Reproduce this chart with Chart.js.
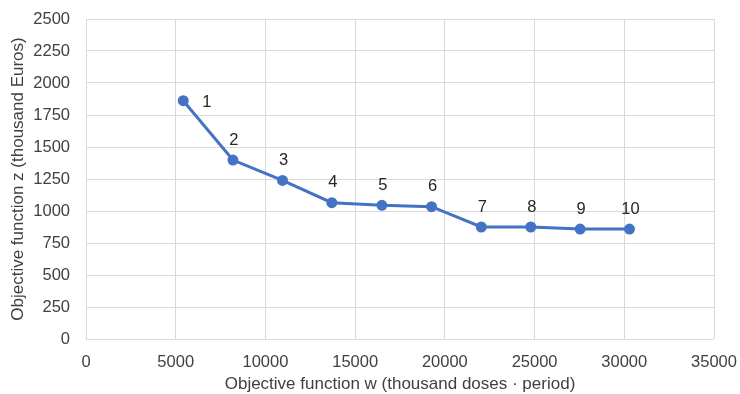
<!DOCTYPE html>
<html>
<head>
<meta charset="utf-8">
<script src="https://cdn.jsdelivr.net/npm/chart.js@4"></script>
<style>
  html, body { margin: 0; padding: 0; background: #fff; }
  #wrap { width: 740px; height: 394px; }
</style>
</head>
<body>
<div id="wrap"><canvas id="chart1"></canvas></div>
<script>
// values
const wValues = [5420, 8190, 10950, 13700, 16490, 19260, 22030, 24790, 27540, 30290];
const zValues = [1862, 1398, 1239, 1065, 1044, 1034, 875, 875, 859, 859];
const pointLabels = ['1', '2', '3', '4', '5', '6', '7', '8', '9', '10'];

const xTitle = 'Objective function w (thousand doses \u00b7 period)';
const yTitle = 'Objective function z (thousand Euros)';

const textColor = '#404040';
const gridColor = '#d9d9d9';
const fontFamily = '"Liberation Sans", Arial, sans-serif';
const fontSize = 16.5;
const titleSize = 17;

// draws the 1..10 labels next to each point
const labelPlugin = {
  id: 'pointLabels',
  afterDatasetsDraw(chart) {
    const ctx = chart.ctx;
    const meta = chart.getDatasetMeta(0);
    ctx.save();
    ctx.font = fontSize + 'px ' + fontFamily;
    ctx.fillStyle = '#262626';
    ctx.textBaseline = 'middle';
    meta.data.forEach((pt, i) => {
      if (i === 0) {
        ctx.textAlign = 'left';
        ctx.fillText(pointLabels[i], pt.x + 19, pt.y + 2);
      } else {
        ctx.textAlign = 'center';
        ctx.fillText(pointLabels[i], pt.x + 1, pt.y - 20);
      }
    });
    ctx.restore();
  }
};

document.addEventListener('DOMContentLoaded', () => {
  createChart1();
});

const createChart1 = () => {
  const ctx = document.getElementById('chart1').getContext('2d');

  const points = wValues.map((w, i) => ({ x: w, y: zValues[i] }));

  const config = {
    type: 'scatter',
    data: {
      datasets: [{
        data: points,
        showLine: true,
        borderColor: '#4472c4',
        backgroundColor: '#4472c4',
        borderWidth: 3,
        pointRadius: 4,
        pointHoverRadius: 4,
        tension: 0
      }]
    },
    plugins: [labelPlugin],
    options: {
      responsive: true,
      maintainAspectRatio: false,
      animation: false,
      layout: {
        autoPadding: false,
        padding: { top: 19, right: 26, bottom: 0, left: 0 }
      },
      plugins: {
        legend: { display: false },
        tooltip: { enabled: false }
      },
      scales: {
        x: {
          type: 'linear',
          min: 0,
          max: 35000,
          border: { display: false },
          grid: { color: gridColor, lineWidth: 1, drawTicks: false },
          afterFit: (scale) => {
            scale.height = 55;
            scale.paddingLeft = 0;
            scale.paddingRight = 0;
          },
          ticks: {
            stepSize: 5000,
            padding: 14,
            color: textColor,
            font: { family: fontFamily, size: fontSize },
            callback: (v) => String(v)
          },
          title: {
            display: true,
            text: xTitle,
            color: textColor,
            padding: { top: 4, bottom: -1 },
            font: { family: fontFamily, size: titleSize }
          }
        },
        y: {
          min: 0,
          max: 2500,
          border: { display: false },
          grid: { color: gridColor, lineWidth: 1, drawTicks: false },
          afterFit: (scale) => {
            scale.width = 86;
            scale.paddingTop = 0;
            scale.paddingBottom = 0;
          },
          ticks: {
            stepSize: 250,
            padding: 16,
            color: textColor,
            font: { family: fontFamily, size: fontSize },
            callback: (v) => String(v)
          },
          title: {
            display: true,
            text: yTitle,
            color: textColor,
            padding: { top: 8, bottom: 0 },
            font: { family: fontFamily, size: titleSize }
          }
        }
      }
    }
  };

  const newChart = new Chart(ctx, config);
}
</script>
</body>
</html>
